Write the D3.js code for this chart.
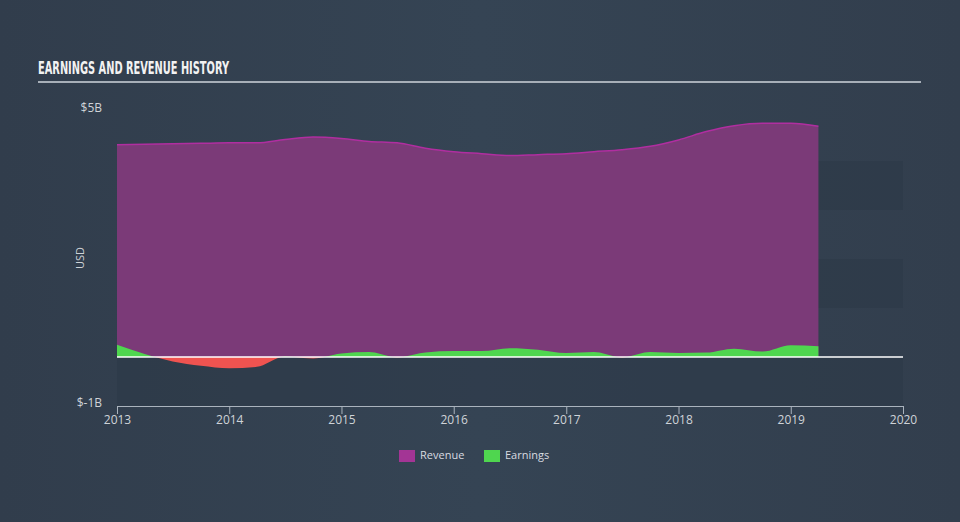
<!DOCTYPE html>
<html>
<head>
<meta charset="utf-8">
<script src="https://cdn.jsdelivr.net/npm/d3@7"></script>
<style>
  html, body { margin: 0; padding: 0; background: #333f4f; }
  svg { display: block; }
</style>
</head>
<body>
<svg id="chart" width="960" height="522"></svg>
<script>
// ---- data ----
const dates = ["2013-01-01","2013-04-01","2013-07-01","2013-10-01",
  "2014-01-01","2014-04-01","2014-07-01","2014-10-01",
  "2015-01-01","2015-04-01","2015-07-01","2015-10-01",
  "2016-01-01","2016-04-01","2016-07-01","2016-10-01",
  "2017-01-01","2017-04-01","2017-07-01","2017-10-01",
  "2018-01-01","2018-04-01","2018-07-01","2018-10-01",
  "2019-01-01","2019-04-01"];
const revenue = [4.33,4.34,4.35,4.36,4.37,4.37,4.44,4.49,4.46,4.40,4.37,4.26,
  4.19,4.15,4.11,4.13,4.15,4.19,4.23,4.30,4.43,4.60,4.72,4.77,4.77,4.71];
const earnings = [0.25,0.06,-0.09,-0.18,-0.23,-0.20,0.01,-0.03,0.07,0.10,-0.01,0.09,
  0.12,0.12,0.18,0.15,0.08,0.10,-0.01,0.10,0.08,0.09,0.17,0.11,0.24,0.22];
const xTickYears = [2013,2014,2015,2016,2017,2018,2019,2020];
const yTickLabels = ["$5B","$-1B"];
const yTickValues = [5,-1];
const bandRanges = [[4,3],[2,1],[0,-1]];
const legendItems = ["Revenue","Earnings"];
const colors = { revenue: "#7b3a78", revenueLine: "#b02ea0", earnings: "#4fd64f", loss: "#ef5350", legendRevenue: "#a33595" };

// ---- setup ----
const svg = d3.select("#chart");
const parse = d3.timeParse("%Y-%m-%d");
const data = dates.map((d, i) => ({ date: parse(d), rev: revenue[i], earn: earnings[i] }));

const defs = svg.append("defs");
const bg = defs.append("linearGradient").attr("id", "bg").attr("x1", "0").attr("x2", "1").attr("y1", "0").attr("y2", "0");
bg.append("stop").attr("offset", "0").attr("stop-color", "#313d4c");
bg.append("stop").attr("offset", "0.5").attr("stop-color", "#354454");
bg.append("stop").attr("offset", "1").attr("stop-color", "#323e4d");
svg.append("rect").attr("width", 960).attr("height", 522).attr("fill", "url(#bg)");

// title
svg.append("text")
  .attr("x", 38).attr("y", 74)
  .attr("font-family", "DejaVu Sans Condensed, DejaVu Sans, sans-serif")
  .attr("font-weight", "bold").attr("font-size", 18.5)
  .attr("textLength", 191).attr("lengthAdjust", "spacingAndGlyphs")
  .attr("fill", "#f2f2f2")
  .text("EARNINGS AND REVENUE HISTORY");
svg.append("line").attr("x1", 38).attr("x2", 921).attr("y1", 82).attr("y2", 82)
  .attr("stroke", "#a7afb8").attr("stroke-width", 2);

const x = d3.scaleTime().domain([parse("2013-01-01"), parse("2020-01-01")]).range([117, 903]);
const y = d3.scaleLinear().domain([-1, 5]).range([406, 112]);

// bands
svg.append("g").selectAll("rect").data(bandRanges).join("rect")
  .attr("x", x.range()[0]).attr("width", x.range()[1] - x.range()[0])
  .attr("y", d => y(d[0])).attr("height", d => y(d[1]) - y(d[0]))
  .attr("fill", "#2b3847").attr("opacity", 0.55);

// revenue area
const revArea = d3.area().x(d => x(d.date)).y0(y(0)).y1(d => y(d.rev)).curve(d3.curveMonotoneX);
const revLine = d3.line().x(d => x(d.date)).y(d => y(d.rev)).curve(d3.curveMonotoneX);
svg.append("path").datum(data).attr("d", revArea).attr("fill", colors.revenue);
svg.append("path").datum(data).attr("d", revLine).attr("fill", "none")
  .attr("stroke", colors.revenueLine).attr("stroke-width", 1.5);

// earnings area with clip above/below zero
defs.append("clipPath").attr("id", "above").append("rect")
  .attr("x", 0).attr("y", 0).attr("width", 960).attr("height", y(0));
defs.append("clipPath").attr("id", "below").append("rect")
  .attr("x", 0).attr("y", y(0)).attr("width", 960).attr("height", 200);
const earnArea = d3.area().x(d => x(d.date)).y0(y(0)).y1(d => y(d.earn)).curve(d3.curveMonotoneX);
svg.append("path").datum(data).attr("d", earnArea).attr("fill", colors.earnings).attr("clip-path", "url(#above)");
svg.append("path").datum(data).attr("d", earnArea).attr("fill", colors.loss).attr("clip-path", "url(#below)");

// zero line
svg.append("line").attr("x1", x.range()[0]).attr("x2", x.range()[1])
  .attr("y1", y(0)).attr("y2", y(0)).attr("stroke", "#ffffff").attr("stroke-width", 1.5);

// x axis
const xAxis = d3.axisBottom(x)
  .tickValues(xTickYears.map(yr => new Date(yr, 0, 1)))
  .tickFormat(d3.timeFormat("%Y"))
  .tickSize(8).tickSizeOuter(0);
const gx = svg.append("g").attr("transform", `translate(0,${y(-1)})`).call(xAxis);
gx.select(".domain").attr("stroke", "#aab3bd");
gx.selectAll(".tick line").attr("stroke", "#aab3bd");
gx.selectAll(".tick text").attr("fill", "#cfd3d8").attr("font-size", 12)
  .attr("font-family", "Open Sans, sans-serif").attr("dy", "0.55em");

// y labels
svg.append("g").selectAll("text").data(yTickValues).join("text")
  .attr("x", 102).attr("y", d => y(d) + (d === 5 ? -3 : -2)).attr("text-anchor", "end")
  .attr("dominant-baseline", "middle")
  .attr("fill", "#cfd3d8").attr("font-size", 12).attr("font-family", "Open Sans, sans-serif")
  .text((d, i) => yTickLabels[i]);
svg.append("text").attr("transform", "translate(84,258) rotate(-90)")
  .attr("text-anchor", "middle").attr("fill", "#cfd3d8").attr("font-size", 11)
  .attr("font-family", "Open Sans, sans-serif").text("USD");

// legend
const legendColors = [colors.legendRevenue, colors.earnings];
const legendX = [399, 484];
const lg = svg.append("g").selectAll("g").data(legendItems).join("g")
  .attr("transform", (d, i) => `translate(${legendX[i]},450)`);
lg.append("rect").attr("width", 16).attr("height", 12).attr("fill", (d, i) => legendColors[i]);
lg.append("text").attr("x", 21).attr("y", 6).attr("dominant-baseline", "middle")
  .attr("fill", "#d8dbe0").attr("font-size", 11).attr("font-family", "Open Sans, sans-serif")
  .text(d => d);
</script>
</body>
</html>
